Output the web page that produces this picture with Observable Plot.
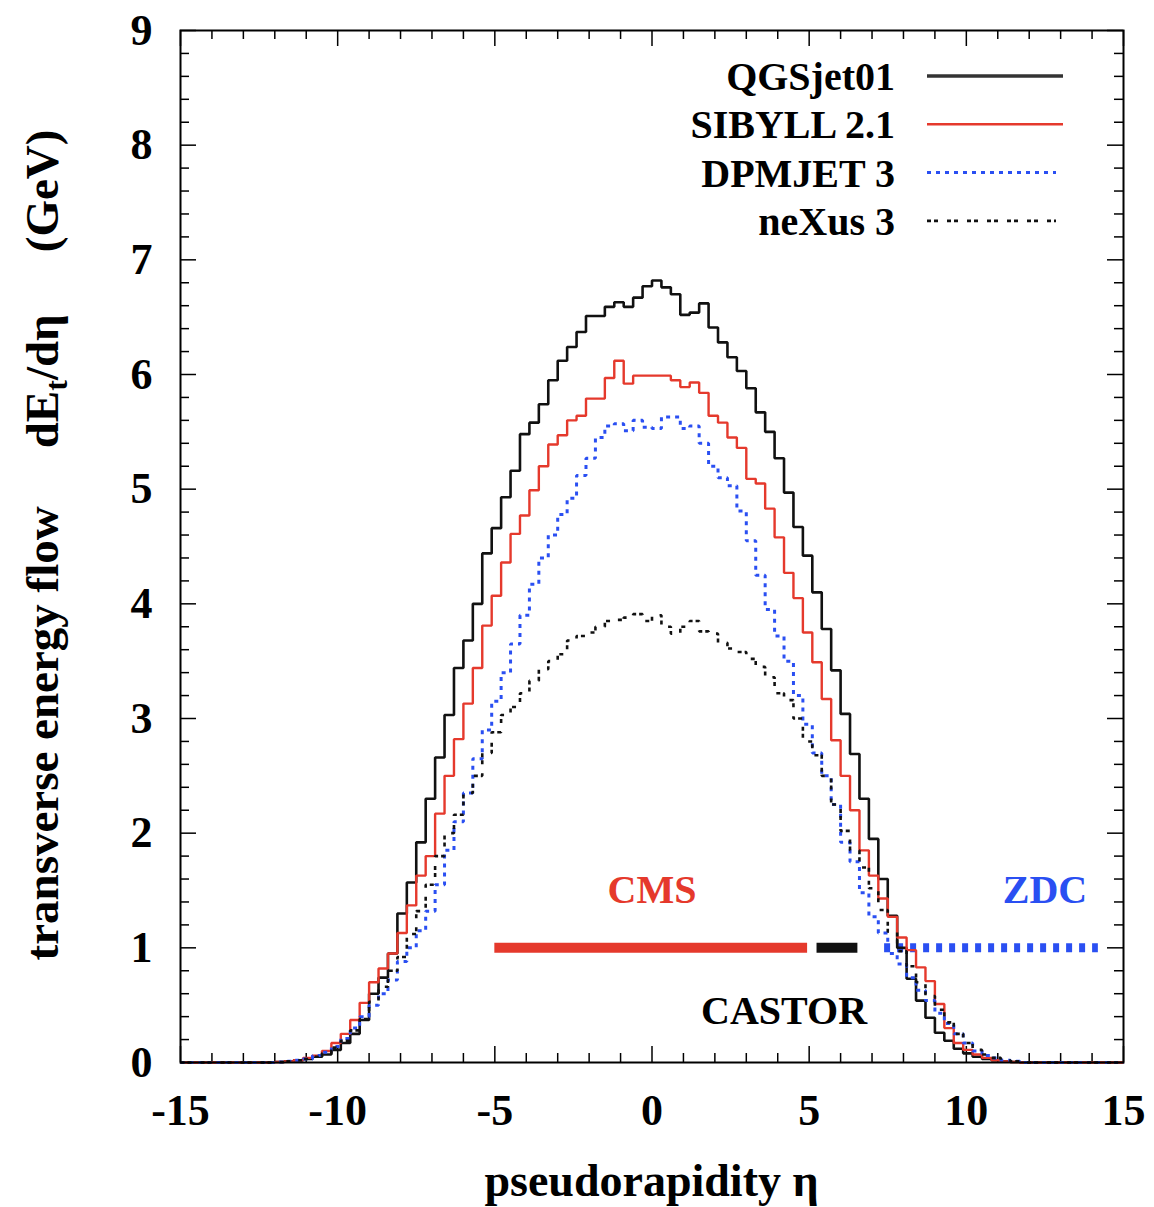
<!DOCTYPE html>
<html><head><meta charset="utf-8">
<script src="https://cdn.jsdelivr.net/npm/d3@7"></script>
<script src="https://cdn.jsdelivr.net/npm/@observablehq/plot@0.6"></script>
<style>html,body{margin:0;padding:0;background:#fff}#chart svg{display:block}</style>
</head><body><div id="chart"></div>
<script>
// ---------- data ----------
const binStart = -15, binWidth = 0.3;   // 100 bins from -15 to 15
const seriesNames = ["QGSjet01", "SIBYLL 2.1", "DPMJET 3", "neXus 3"];
const qgsjet01 = [
  0,0,0,0,0,0,0,0,0,0,
  0.005,0.01,0.02,0.03,0.05,0.07,0.11,0.17,0.25,0.37,
  0.60,0.74,0.95,1.30,1.57,1.92,2.30,2.66,3.03,3.44,
  3.68,4.00,4.44,4.66,4.93,5.16,5.48,5.58,5.74,5.95,
  6.12,6.24,6.37,6.51,6.51,6.59,6.63,6.59,6.67,6.77,
  6.82,6.76,6.70,6.52,6.54,6.62,6.41,6.28,6.15,6.03,
  5.88,5.67,5.50,5.27,4.97,4.67,4.42,4.10,3.78,3.42,
  3.04,2.69,2.30,1.95,1.60,1.28,1.00,0.73,0.54,0.39,
  0.26,0.19,0.12,0.08,0.05,0.03,0.02,0.01,0.005,0,
  0,0,0,0,0,0,0,0,0,0];
const sibyll21 = [
  0,0,0,0,0,0,0,0,0,0,
  0.005,0.01,0.02,0.04,0.06,0.10,0.17,0.25,0.37,0.52,
  0.70,0.82,0.95,1.13,1.37,1.63,1.80,2.17,2.50,2.82,
  3.13,3.44,3.81,4.07,4.36,4.61,4.77,4.99,5.20,5.39,
  5.47,5.60,5.64,5.79,5.79,5.97,6.12,5.92,5.99,5.99,
  5.99,5.99,5.95,5.89,5.93,5.84,5.64,5.58,5.45,5.36,
  5.09,5.05,4.83,4.58,4.27,4.05,3.75,3.49,3.17,2.81,
  2.50,2.20,1.85,1.63,1.43,1.27,1.09,0.98,0.83,0.71,
  0.51,0.30,0.17,0.11,0.07,0.04,0.02,0.01,0.005,0,
  0,0,0,0,0,0,0,0,0,0];
const dpmjet3 = [
  0,0,0,0,0,0,0,0,0,0,
  0.005,0.01,0.02,0.03,0.06,0.09,0.14,0.21,0.30,0.40,
  0.50,0.60,0.72,0.88,1.00,1.15,1.32,1.55,1.85,2.10,
  2.35,2.65,2.90,3.15,3.40,3.65,3.90,4.17,4.40,4.60,
  4.78,4.92,5.12,5.27,5.45,5.55,5.57,5.51,5.60,5.54,
  5.53,5.63,5.63,5.53,5.55,5.40,5.20,5.10,5.03,4.81,
  4.55,4.25,3.95,3.72,3.50,3.20,2.95,2.70,2.50,2.25,
  1.92,1.75,1.48,1.27,1.13,0.95,0.86,0.74,0.63,0.54,
  0.43,0.34,0.25,0.17,0.10,0.06,0.04,0.02,0.01,0,
  0,0,0,0,0,0,0,0,0,0];
const nexus3 = [
  0,0,0,0,0,0,0,0,0,0,
  0.005,0.01,0.02,0.03,0.05,0.08,0.13,0.19,0.28,0.38,
  0.53,0.66,0.80,0.92,1.12,1.32,1.55,1.80,2.00,2.16,
  2.35,2.50,2.70,2.88,3.03,3.10,3.22,3.33,3.43,3.50,
  3.56,3.68,3.72,3.75,3.80,3.85,3.86,3.88,3.91,3.85,
  3.90,3.80,3.74,3.80,3.85,3.76,3.74,3.66,3.61,3.58,
  3.52,3.45,3.36,3.22,3.16,3.00,2.80,2.68,2.50,2.25,
  2.02,1.85,1.70,1.52,1.33,1.14,0.97,0.84,0.70,0.58,
  0.46,0.35,0.25,0.17,0.11,0.07,0.04,0.02,0.01,0,
  0,0,0,0,0,0,0,0,0,0];

// detector acceptance bars (eta ranges) drawn at dE/deta = 1
const detectorNames = ["CMS", "CASTOR", "ZDC"];
const detectorFrom  = [-5, 5.25, 7.4];
const detectorTo    = [4.95, 6.55, 14.2];
const detectorLevel = [1, 1, 1];
const detectorLabelEta = [0, 4.2, 12.5];
const detectorLabelVal = [1.5, 0.45, 1.5];

const xTickLabels = [-15, -10, -5, 0, 5, 10, 15];
const yTickLabels = [0, 1, 2, 3, 4, 5, 6, 7, 8, 9];

// ---------- styles ----------
const RED = "#e5392c", BLUE = "#2a4ff2", BLACK = "#111";
const serif = "'Liberation Serif', 'DejaVu Serif', serif";
const seriesStyle = [
  {stroke: BLACK, strokeWidth: 2.6, dash: null},
  {stroke: RED,   strokeWidth: 2.4, dash: null},
  {stroke: BLUE,  strokeWidth: 3, dash: "4,5"},
  {stroke: BLACK, strokeWidth: 2.6, dash: "4,3,4,9"}
];
const detectorStyle = [
  {stroke: RED, dash: null, width: 10},
  {stroke: BLACK, dash: null, width: 10},
  {stroke: BLUE, dash: "6,7", width: 9}
];

const W = 1154, H = 1207;
const mL = 180, mR = 31, mT = 30, mB = 145;
const frameW = W - mL - mR, frameH = H - mT - mB;
const majorLen = 16, minorLen = 9;

function steps(values) {
  const pts = values.map((v, i) => ({eta: binStart + i * binWidth, value: v}));
  pts.push({eta: binStart + values.length * binWidth, value: values[values.length - 1]});
  return pts;
}
const allSeries = [qgsjet01, sibyll21, dpmjet3, nexus3];

const xMinor = d3.range(-15, 15.001, 1).filter(v => Math.abs(v % 5) > 1e-9);
const yMinor = d3.range(0, 9.001, 0.2).map(v => +v.toFixed(1)).filter(v => Math.abs(v - Math.round(v)) > 1e-9);

const detectors = detectorNames.map((n, k) => ({name: n, from: detectorFrom[k], to: detectorTo[k], level: detectorLevel[k], lx: detectorLabelEta[k], ly: detectorLabelVal[k]}));

const marks = [];
// ticks (inward, on all four sides)
marks.push(Plot.ruleX(xTickLabels, {insetTop: frameH - majorLen, stroke: "black", strokeWidth: 1.5}));
marks.push(Plot.ruleX(xTickLabels, {insetBottom: frameH - majorLen, stroke: "black", strokeWidth: 1.5}));
marks.push(Plot.ruleX(xMinor, {insetTop: frameH - minorLen, stroke: "black", strokeWidth: 1.5}));
marks.push(Plot.ruleX(xMinor, {insetBottom: frameH - minorLen, stroke: "black", strokeWidth: 1.5}));
marks.push(Plot.ruleY(yTickLabels, {insetRight: frameW - majorLen, stroke: "black", strokeWidth: 1.5}));
marks.push(Plot.ruleY(yTickLabels, {insetLeft: frameW - majorLen, stroke: "black", strokeWidth: 1.5}));
marks.push(Plot.ruleY(yMinor, {insetRight: frameW - minorLen, stroke: "black", strokeWidth: 1.5}));
marks.push(Plot.ruleY(yMinor, {insetLeft: frameW - minorLen, stroke: "black", strokeWidth: 1.5}));

// detector bars
detectors.forEach((d, k) => {
  const st = detectorStyle[k];
  marks.push(Plot.ruleY([d], {y: "level", x1: "from", x2: "to", stroke: st.stroke, strokeWidth: st.width, strokeDasharray: st.dash}));
  marks.push(Plot.text([d], {x: "lx", y: "ly", text: "name", fill: st.stroke === BLACK ? "black" : st.stroke, fontSize: 40, fontWeight: "bold", fontFamily: serif}));
});

// model curves
allSeries.forEach((vals, k) => {
  const st = seriesStyle[k];
  marks.push(Plot.line(steps(vals), {x: "eta", y: "value", curve: "step-after", stroke: st.stroke, strokeWidth: st.strokeWidth, strokeDasharray: st.dash, strokeLinejoin: "miter", strokeLinecap: "butt"}));
});

marks.push(Plot.axisX({ticks: xTickLabels, tickSize: 0, tickPadding: 31, tickFormat: d => String(d), fontSize: 44, fontWeight: "bold", label: null}));
marks.push(Plot.axisY({ticks: yTickLabels, tickSize: 0, tickPadding: 28, tickFormat: d => String(d), fontSize: 44, fontWeight: "bold", label: null}));
marks.push(Plot.frame({stroke: "black", strokeWidth: 2}));

const plot = Plot.plot({
  width: W, height: H,
  marginLeft: mL, marginRight: mR, marginTop: mT, marginBottom: mB,
  x: {domain: [-15, 15]},
  y: {domain: [0, 9]},
  style: {fontFamily: serif, fontWeight: "bold", background: "white", color: "black", overflow: "visible"},
  marks
});
document.getElementById("chart").appendChild(plot);

// ---------- legend & axis titles ----------
const svg = d3.select(plot);
const leg = svg.append("g").attr("font-family", serif).attr("font-weight", "bold").attr("font-size", 40);
seriesNames.forEach((name, k) => {
  const st = seriesStyle[k];
  const y = 76 + k * 48.3;
  leg.append("text").attr("x", 895).attr("y", y + 14).attr("text-anchor", "end").attr("fill", "black").text(name);
  leg.append("line").attr("x1", 927).attr("x2", k >= 2 ? 1056 : 1063).attr("y1", y).attr("y2", y)
    .attr("stroke", k === 0 ? "#333" : st.stroke).attr("stroke-width", st.strokeWidth + (k === 0 ? 1 : 0))
    .attr("stroke-dasharray", st.dash);
});

svg.append("text").attr("x", mL + frameW / 2).attr("y", 1196).attr("text-anchor", "middle")
  .attr("font-family", serif).attr("font-weight", "bold").attr("font-size", 46).attr("fill", "black")
  .text("pseudorapidity η");

const yl = svg.append("text").attr("transform", "translate(58,545) rotate(-90)").attr("text-anchor", "middle")
  .attr("font-family", serif).attr("font-weight", "bold").attr("font-size", 47).attr("fill", "black");
yl.append("tspan").text("transverse energy flow");
yl.append("tspan").attr("dx", 58).text("dE");
yl.append("tspan").attr("dy", 9).attr("font-size", 32).text("t");
yl.append("tspan").attr("dy", -9).text("/dη");
yl.append("tspan").attr("dx", 62).text("(GeV)");
</script>
</body></html>
